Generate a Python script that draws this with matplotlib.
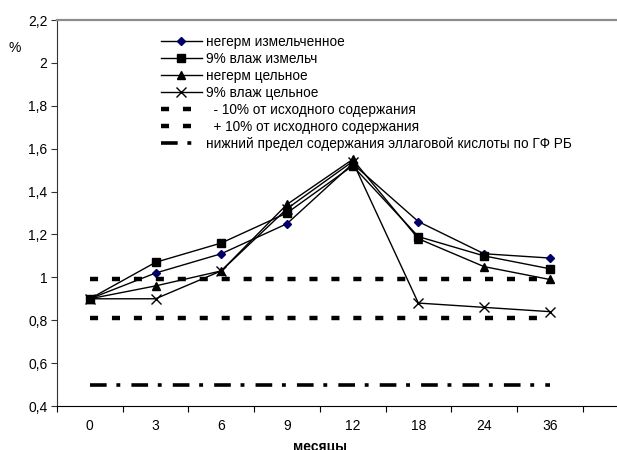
import numpy as np
import matplotlib.pyplot as plt

plt.rcParams['font.family'] = ['Liberation Sans', 'DejaVu Sans']
plt.rcParams['lines.scale_dashes'] = False

months = ['0', '3', '6', '9', '12', '18', '24', '36']

negerm_izm = [0.90, 1.02, 1.11, 1.25, 1.53, 1.26, 1.11, 1.09]
vlazh_izm = [0.90, 1.07, 1.16, 1.30, 1.52, 1.19, 1.10, 1.04]
negerm_cel = [0.90, 0.96, 1.03, 1.34, 1.55, 1.18, 1.05, 0.99]
vlazh_cel = [0.90, 0.90, 1.03, 1.32, 1.54, 0.88, 0.86, 0.84]

lower_10 = 0.81
upper_10 = 0.99
pharm_limit = 0.50

yticks = [0.4, 0.6, 0.8, 1.0, 1.2, 1.4, 1.6, 1.8, 2.0, 2.2]
ytick_labels = ['0,4', '0,6', '0,8', '1', '1,2', '1,4', '1,6', '1,8', '2', '2,2']


def main():
    fig = plt.figure(figsize=(6.17, 4.5), dpi=100)
    ax = fig.add_axes([57 / 617, 44 / 450, 1 - 57 / 617, 386 / 450])

    x = np.arange(len(months))

    ax.plot(x, negerm_izm, '-', color='black', lw=1, marker='D', ms=4,
            mfc='#000066', mec='#000066', label='негерм измельченное')
    ax.plot(x, vlazh_izm, '-', color='black', lw=1, marker='s', ms=5.5,
            mfc='black', mec='black', label='9% влаж измельч')
    ax.plot(x, negerm_cel, '-', color='black', lw=1, marker='^', ms=5.5,
            mfc='black', mec='black', label='негерм цельное')
    ax.plot(x, vlazh_cel, '-', color='black', lw=1, marker='x', ms=6.5,
            mew=1, label='9% влаж цельное')

    # reference bands and the pharmacopoeia lower limit
    ax.plot(x, [upper_10] * len(x), color='black', lw=3.2,
            linestyle=(0, (5.8, 10)), label='  - 10% от исходного содержания')
    ax.plot(x, [lower_10] * len(x), color='black', lw=3.2,
            linestyle=(0, (5.8, 10)), label='  + 10% от исходного содержания')
    ax.plot(x, [pharm_limit] * len(x), color='black', lw=2.6,
            linestyle=(0, (12, 7, 2.8, 8)),
            label='нижний предел содержания эллаговой кислоты по ГФ РБ')

    ax.set_xlim(-0.5, -0.5 + (617 - 57) / 65.7)
    ax.set_ylim(0.4, 2.2)
    ax.set_xticks(np.arange(-0.5, 8, 1.0))
    ax.set_xticklabels([])
    ax.set_xticks(x, minor=True)
    ax.set_xticklabels(months, minor=True, fontsize=10)
    ax.tick_params(axis='x', which='minor', length=0, pad=9)
    ax.tick_params(axis='x', which='major', length=4, direction='out', color='black')
    ax.set_yticks(yticks)
    ax.set_yticklabels(ytick_labels, fontsize=10)
    ax.tick_params(axis='y', length=4, direction='out', color='#333333', pad=3)

    ax.spines['right'].set_visible(False)
    ax.spines['top'].set_color('#8c8c8c')
    ax.spines['top'].set_linewidth(1.6)
    ax.spines['left'].set_color('#333333')
    ax.spines['bottom'].set_color('black')

    ax.legend(loc='upper left', bbox_to_anchor=(161 / 617, 1 - 35 / 450),
              bbox_transform=fig.transFigure, frameon=False, fontsize=9.8,
              handlelength=3.0, handletextpad=0.3, labelspacing=0.22,
              borderpad=0, borderaxespad=0)

    fig.text(15 / 617, 1 - 48 / 450, '%', fontsize=10, ha='center', va='center')
    fig.text(320 / 617, 1 - 440 / 450, 'месяцы', fontsize=10, fontweight='bold',
             ha='center', va='top')

    fig.savefig('out.png', dpi=100)


if __name__ == '__main__':
    main()
